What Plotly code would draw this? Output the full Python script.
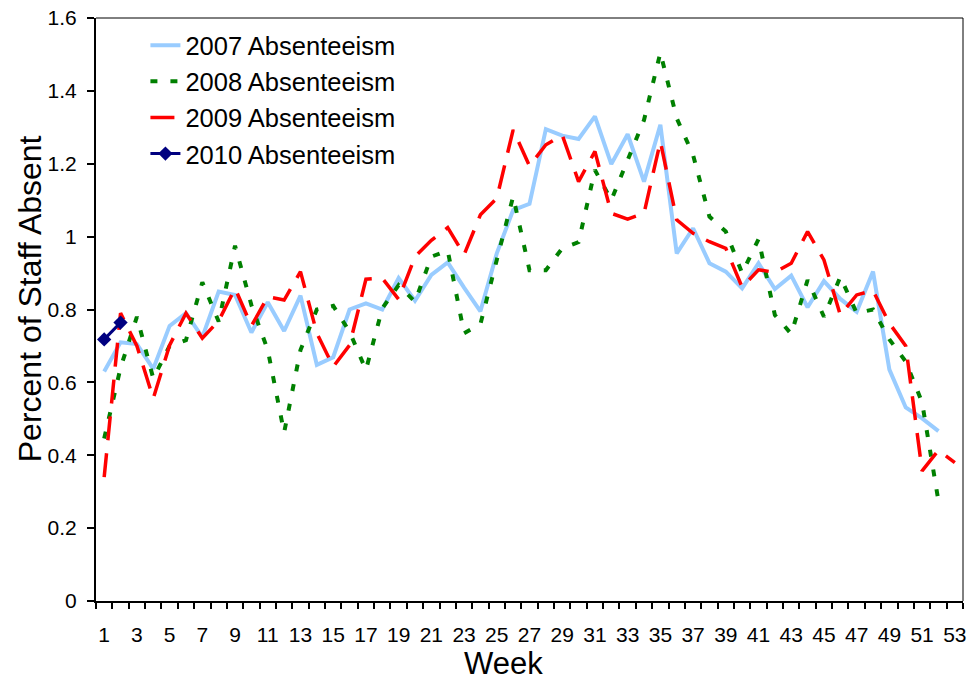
import plotly.graph_objects as go

weeks = list(range(1, 54))

abs_2007 = [0.63, 0.71, 0.705, 0.637, 0.755, 0.79, 0.724, 0.849, 0.84, 0.737,
            0.82, 0.741, 0.838, 0.648, 0.669, 0.80, 0.817, 0.80, 0.886, 0.824,
            0.895, 0.929, 0.86, 0.795, 0.954, 1.073, 1.09, 1.295, 1.277, 1.268,
            1.33, 1.199, 1.281, 1.151, 1.307, 0.954, 1.023, 0.927, 0.904, 0.858,
            0.927, 0.856, 0.893, 0.806, 0.878, 0.829, 0.794, 0.904, 0.635, 0.531,
            0.501, 0.466]

abs_2008 = [0.446, 0.64, 0.78, 0.611, 0.70, 0.716, 0.875, 0.767, 0.975, 0.812,
            0.689, 0.462, 0.689, 0.80, 0.81, 0.739, 0.634, 0.803, 0.867, 0.821,
            0.945, 0.962, 0.735, 0.76, 0.936, 1.11, 0.908, 0.908, 0.968, 0.985,
            1.183, 1.10, 1.21, 1.32, 1.505, 1.325, 1.224, 1.055, 1.014, 0.90,
            0.993, 0.785, 0.733, 0.881, 0.78, 0.89, 0.79, 0.80, 0.718, 0.657,
            0.545, 0.274]

abs_2009 = [0.34, 0.79, 0.70, 0.556, 0.702, 0.79, 0.721, 0.769, 0.858, 0.755,
            0.835, 0.826, 0.904, 0.735, 0.643, 0.702, 0.883, 0.886, 0.828, 0.945,
            0.99, 1.025, 0.95, 1.06, 1.105, 1.293, 1.194, 1.252, 1.279, 1.151,
            1.234, 1.064, 1.048, 1.064, 1.261, 1.046, 1.009, 0.986, 0.968, 0.861,
            0.909, 0.902, 0.927, 1.014, 0.936, 0.785, 0.84, 0.852, 0.762, 0.70,
            0.357, 0.414, 0.38]

abs_2010 = [0.718, 0.764]

x_tick_labels = [str(w) for w in range(1, 54, 2)]
y_ticks = [0, 0.2, 0.4, 0.6, 0.8, 1.0, 1.2, 1.4, 1.6]

FONT = "Liberation Sans, Arial, sans-serif"

W, H = 972, 680
ML, MR, MT, MB = 96, 6, 18, 79
PW, PH = W - ML - MR, H - MT - MB

fig = go.Figure()
fig.add_trace(go.Scatter(x=weeks[:len(abs_2007)], y=abs_2007, mode="lines",
                         name="2007 Absenteeism",
                         line=dict(color="#99CCFF", width=4)))
fig.add_trace(go.Scatter(x=weeks[:len(abs_2008)], y=abs_2008, mode="lines",
                         name="2008 Absenteeism",
                         line=dict(color="#008000", width=4, dash="7px,13px")))
fig.add_trace(go.Scatter(x=weeks[:len(abs_2009)], y=abs_2009, mode="lines",
                         name="2009 Absenteeism",
                         line=dict(color="#FF0000", width=3.5, dash="24px,13px")))
fig.add_trace(go.Scatter(x=weeks[:len(abs_2010)], y=abs_2010, mode="lines+markers",
                         name="2010 Absenteeism",
                         line=dict(color="#000080", width=3),
                         marker=dict(symbol="diamond", size=11, color="#000080")))

fig.update_layout(
    width=W, height=H,
    margin=dict(l=ML, r=MR, t=MT, b=MB),
    paper_bgcolor="white", plot_bgcolor="white",
    font=dict(family=FONT, color="black"),
    showlegend=True,
    legend=dict(x=0.057, y=0.993, xanchor="left", yanchor="top",
                font=dict(size=25.5, family=FONT), bgcolor="rgba(0,0,0,0)",
                tracegroupgap=0),
    shapes=[
        dict(type="line", xref="paper", yref="paper", x0=0, x1=1, y0=1, y1=1,
             line=dict(color="black", width=1)),
        dict(type="line", xref="paper", yref="paper", x0=1, x1=1, y0=0, y1=1,
             line=dict(color="black", width=1)),
    ],
    annotations=[
        dict(text="Week", xref="paper", yref="paper",
             x=(505 - ML) / PW, y=(MT + PH - 663) / PH,
             xanchor="center", yanchor="middle", showarrow=False,
             font=dict(size=31, family=FONT)),
        dict(text="Percent of Staff Absent", xref="paper", yref="paper",
             x=(30 - ML) / PW, y=(MT + PH - 299) / PH,
             xanchor="center", yanchor="middle", showarrow=False, textangle=-90,
             font=dict(size=32, family=FONT)),
    ],
)

fig.update_xaxes(
    range=[0.5, 53.5], tickmode="array",
    tickvals=list(range(1, 54, 2)), ticktext=x_tick_labels,
    ticks="", showgrid=False, zeroline=False,
    showline=True, linecolor="black", linewidth=2,
    tickfont=dict(size=21, family=FONT),
    ticklabelstandoff=14, ticklabeloverflow="allow",
    minor=dict(tickmode="linear", tick0=0.5, dtick=1, ticks="outside",
               ticklen=6, tickwidth=2, tickcolor="black", showgrid=False),
)
fig.update_yaxes(
    range=[0, 1.6], tickmode="array", tickvals=y_ticks,
    ticks="outside", ticklen=7, tickwidth=2, tickcolor="black",
    showgrid=False, zeroline=False,
    showline=True, linecolor="black", linewidth=2,
    tickfont=dict(size=21, family=FONT),
    ticklabelstandoff=6, ticklabeloverflow="allow",
)

fig.write_html("out.html",
               config={"displayModeBar": False},
               post_script="document.body.style.margin='0';document.body.style.overflow='hidden';")
